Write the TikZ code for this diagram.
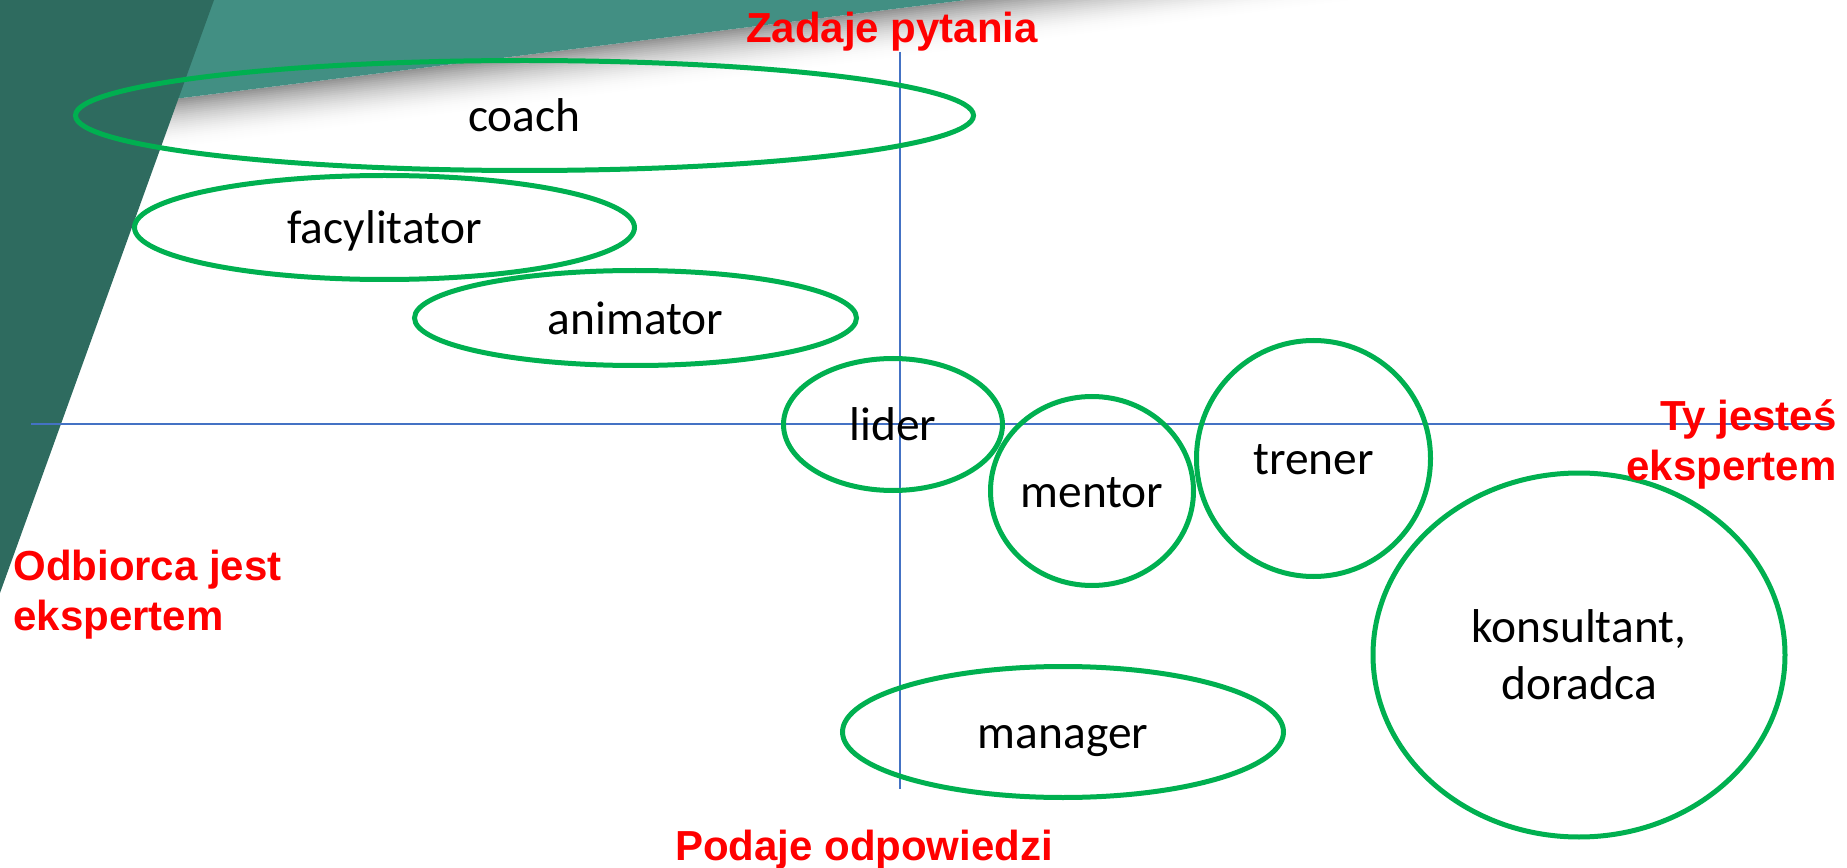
\documentclass[tikz,border=0pt]{standalone}
\usepackage{fontspec}
\setmainfont{Carlito}
\newfontfamily\poleface{Liberation Sans}
\usetikzlibrary{shapes.geometric,positioning}
\definecolor{deepteal}{HTML}{2E6B5F}
\definecolor{slideteal}{HTML}{428F83}
\definecolor{ringgreen}{HTML}{00B050}
\definecolor{axisblue}{HTML}{4472C4}
\begin{document}
\begin{tikzpicture}[x=0.02cm,y=-0.02cm,
  role/.style={ellipse,draw=ringgreen,line width=0.1cm,inner sep=0pt,
    font=\fontsize{27}{32.3}\selectfont,text height=20.25pt,text depth=1.9pt},
  ring/.style 2 args={minimum width=#1*0.02cm,minimum height=#2*0.02cm},
  pole/.style={text=red,font=\poleface\bfseries\fontsize{23.9}{28.2}\selectfont,inner sep=0pt},
  axis/.style={draw=axisblue,line width=0.036cm}]
\useasboundingbox (0,0) rectangle (1847,868);
% slide background
\foreach \k in {0,...,24}{
  \pgfmathsetmacro\shd{42*(1-\k/25)^2}
  \fill[black!\shd] (0,{120.75+2*\k}) -- ({966+16*\k},0) -- ({990+16*\k},0) -- (0,{123.75+2*\k}) -- cycle;}
\fill[slideteal] (0,0) -- (966,0) -- (0,120.75) -- cycle;
\fill[deepteal] (0,0) -- (214,0) -- (0,593) -- cycle;
% axes
\coordinate (top) at (900,52);
\coordinate (bottom) at (900,789);
\coordinate (west) at (31,424);
\coordinate (east) at (1830,424);
\draw[axis] (west) -- (east);
\draw[axis] (top) -- (bottom);
% roles
\node[role,ring={898}{110}] (coach) at (524.5,115.5) {coach};
\node[role,ring={500}{104}] (facil) at (384.5,227.5) {facylitator};
\node[role,ring={442}{95}] (anim) at (635.5,318) {animator};
\node[role,ring={219}{132}] (lider) at (893,424.5) {lider};
\node[role,ring={203}{189}] (mentor) at (1092,491) {mentor};
\node[role,ring={234}{236}] (trener) at (1313.5,458.5) {trener};
\node[role,ring={441}{131}] (manager) at (1063,732) {manager};
\node[role,ring={412}{364},align=center,text height=,text depth=] (konsult) at (1579,655) {konsultant,\\doradca};
% poles
\node[pole,anchor=base] (ask) at (892,43) {Zadaje pytania};
\node[pole,anchor=base] (answer) at (864,860) {Podaje odpowiedzi};
\node[pole,align=right,anchor=base east] (you) at (1837,480) {Ty jesteś\\ekspertem};
\node[pole,align=left,anchor=base west] (client) at (13,630) {Odbiorca jest\\ekspertem};
\end{tikzpicture}
\end{document}
